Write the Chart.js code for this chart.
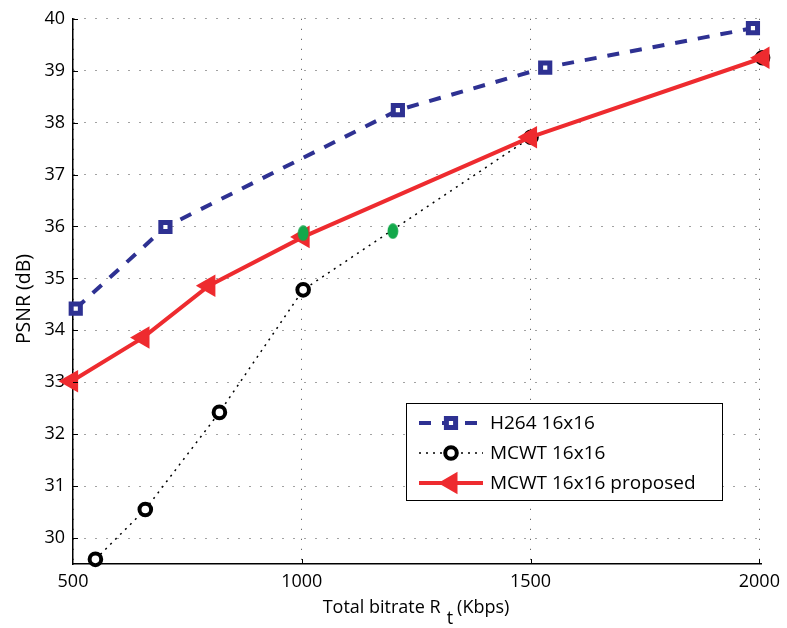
<!DOCTYPE html>
<html>
<head>
<meta charset="utf-8">
<script src="https://cdn.jsdelivr.net/npm/chart.js@4/dist/chart.umd.min.js"></script>
<style>
  html, body { margin: 0; padding: 0; background: #fff; }
</style>
</head>
<body>
<canvas id="chart" width="787" height="628"></canvas>
<script>
// values
const h264Label = "H264 16x16";
const h264Rate = [506, 702, 1210, 1532, 1986];
const h264Psnr = [34.42, 35.99, 38.24, 39.06, 39.82];

const mcwtLabel = "MCWT 16x16";
const mcwtRate = [549, 658, 820, 1003, 1501, 2007];
const mcwtPsnr = [29.59, 30.55, 32.42, 34.78, 37.72, 39.25];

const propLabel = "MCWT 16x16 proposed";
const propRate = [497, 653, 797, 1003, 1500, 2008];
const propPsnr = [33.02, 33.86, 34.86, 35.80, 37.72, 39.25];

// the two green dots (not in the legend)
const dotRate = [1003, 1199];
const dotPsnr = [35.87, 35.91];

const xTicks = [500, 1000, 1500, 2000];
const yTicks = [30, 31, 32, 33, 34, 35, 36, 37, 38, 39, 40];

const FONT = "'Open Sans', 'Liberation Sans', sans-serif";

function toPoints(xs, ys) {
  return xs.map((x, i) => ({ x: x, y: ys[i] }));
}

// green ellipse marker
let greenDot = document.createElement("canvas");
greenDot.width = 12;
greenDot.height = 16;
let g = greenDot.getContext("2d");
g.fillStyle = "#13a84b";
g.beginPath();
g.ellipse(6, 8, 5.4, 7.8, 0, 0, Math.PI * 2);
g.fill();

// legend, inner ticks, axis titles
const extras = {
  id: "extras",
  afterDraw(chart) {
    let ctx = chart.ctx;
    let area = chart.chartArea;
    let xs = chart.scales.x;
    let ys = chart.scales.y;

    ctx.save();
    ctx.strokeStyle = "#000";
    ctx.lineWidth = 1;
    ctx.setLineDash([]);
    ctx.beginPath();
    yTicks.forEach(v => {
      let py = Math.round(ys.getPixelForValue(v)) + 0.5;
      ctx.moveTo(area.left, py);
      ctx.lineTo(area.left + 5, py);
    });
    xTicks.forEach(v => {
      if (v === xs.min) return;
      let px = Math.round(xs.getPixelForValue(v)) + 0.5;
      ctx.moveTo(px, area.bottom);
      ctx.lineTo(px, area.bottom - 5);
    });
    ctx.stroke();

    // y title
    ctx.fillStyle = "#000";
    ctx.font = "19.5px " + FONT;
    ctx.textAlign = "center";
    ctx.textBaseline = "middle";
    ctx.save();
    ctx.translate(24, 299);
    ctx.rotate(-Math.PI / 2);
    ctx.fillText("PSNR (dB)", 0, 0);
    ctx.restore();

    // x title: Total bitrate R_t (Kbps)
    ctx.font = "18px " + FONT;
    ctx.textBaseline = "alphabetic";
    ctx.textAlign = "left";
    let part1 = "Total bitrate R";
    let part2 = "t";
    let part3 = "(Kbps)";
    let w1 = ctx.measureText(part1).width;
    let w2 = ctx.measureText(part2).width;
    let w3 = ctx.measureText(part3).width;
    let total = w1 + 6 + w2 + 4 + w3;
    let x0 = 416 - total / 2;
    ctx.fillText(part1, x0, 613);
    ctx.fillText(part2, x0 + w1 + 6, 624);
    ctx.fillText(part3, x0 + w1 + 6 + w2 + 4, 613);

    // legend box
    let bx = 406, by = 403, bw = 316, bh = 97;
    ctx.fillStyle = "#fff";
    ctx.fillRect(bx, by, bw, bh);
    ctx.strokeStyle = "#000";
    ctx.lineWidth = 1;
    ctx.strokeRect(bx + 0.5, by + 0.5, bw, bh);

    let rows = [423, 453, 483];
    chart.data.datasets.slice(0, 3).forEach((ds, i) => {
      let cy = rows[i];
      ctx.save();
      ctx.strokeStyle = ds.borderColor;
      ctx.lineWidth = ds.borderWidth;
      ctx.setLineDash(ds.borderDash || []);
      ctx.beginPath();
      ctx.moveTo(419, cy);
      ctx.lineTo(483, cy);
      ctx.stroke();
      ctx.setLineDash([]);
      ctx.fillStyle = ds.pointBackgroundColor;
      ctx.strokeStyle = ds.pointBorderColor;
      ctx.lineWidth = ds.pointBorderWidth;
      Chart.helpers.drawPoint(ctx, {
        pointStyle: ds.pointStyle,
        radius: ds.pointRadius,
        rotation: ds.pointRotation || 0,
        borderWidth: ds.pointBorderWidth
      }, 451, cy);
      ctx.restore();
      ctx.fillStyle = "#000";
      ctx.font = "19px " + FONT;
      ctx.textBaseline = "middle";
      ctx.fillText(ds.label, 490, cy + 1);
    });
    ctx.restore();
  }
};

let ctx = document.getElementById("chart");

let psnrChart = new Chart(ctx, {
  type: "line",
  data: {
    datasets: [
      {
        label: h264Label,
        data: toPoints(h264Rate, h264Psnr),
        borderColor: "#2e3192",
        borderWidth: 4,
        borderDash: [12, 11],
        pointStyle: "rect",
        pointRadius: 6.5,
        pointBorderWidth: 5,
        pointBorderColor: "#2e3192",
        pointBackgroundColor: "#ffffff",
        order: 3,
        clip: false
      },
      {
        label: mcwtLabel,
        data: toPoints(mcwtRate, mcwtPsnr),
        borderColor: "#000000",
        borderWidth: 1.5,
        borderDash: [2, 5],
        pointStyle: "circle",
        pointRadius: 5.8,
        pointBorderWidth: 4,
        pointBorderColor: "#000000",
        pointBackgroundColor: "#ffffff",
        order: 2,
        clip: false
      },
      {
        label: propLabel,
        data: toPoints(propRate, propPsnr),
        borderColor: "#ee2b2f",
        borderWidth: 4,
        pointStyle: "triangle",
        pointRotation: 270,
        pointRadius: 11,
        pointBorderWidth: 2,
        pointBorderColor: "#ee2b2f",
        pointBackgroundColor: "#ee2b2f",
        order: 1,
        clip: false
      },
      {
        label: "",
        data: toPoints(dotRate, dotPsnr),
        showLine: false,
        pointStyle: greenDot,
        order: 0,
        clip: false
      }
    ]
  },
  options: {
    responsive: false,
    animation: false,
    layout: {
      autoPadding: false,
      padding: { left: 0, top: 16, right: 19, bottom: 0 }
    },
    elements: { line: { tension: 0 } },
    plugins: {
      legend: { display: false },
      tooltip: { enabled: false }
    },
    scales: {
      x: {
        type: "linear",
        min: 500,
        max: 2005,
        afterFit: s => { s.height = 64; },
        afterBuildTicks: s => { s.ticks = xTicks.map(v => ({ value: v })); },
        ticks: {
          color: "#000",
          font: { family: FONT, size: 18 },
          padding: 7,
          maxRotation: 0,
          callback: v => String(v)
        },
        grid: { color: "#444", lineWidth: 1, drawTicks: false },
        border: { display: true, color: "#000", width: 1.5, dash: [1, 9] }
      },
      y: {
        type: "linear",
        min: 29.5,
        max: 40,
        afterFit: s => { s.width = 73; },
        afterBuildTicks: s => { s.ticks = yTicks.map(v => ({ value: v })); },
        ticks: {
          color: "#000",
          font: { family: FONT, size: 18 },
          padding: 8,
          callback: v => String(v)
        },
        grid: { color: "#444", lineWidth: 1, drawTicks: false },
        border: { display: true, color: "#000", width: 1.5, dash: [1, 10] }
      }
    }
  },
  plugins: [extras]
});
</script>
</body>
</html>
